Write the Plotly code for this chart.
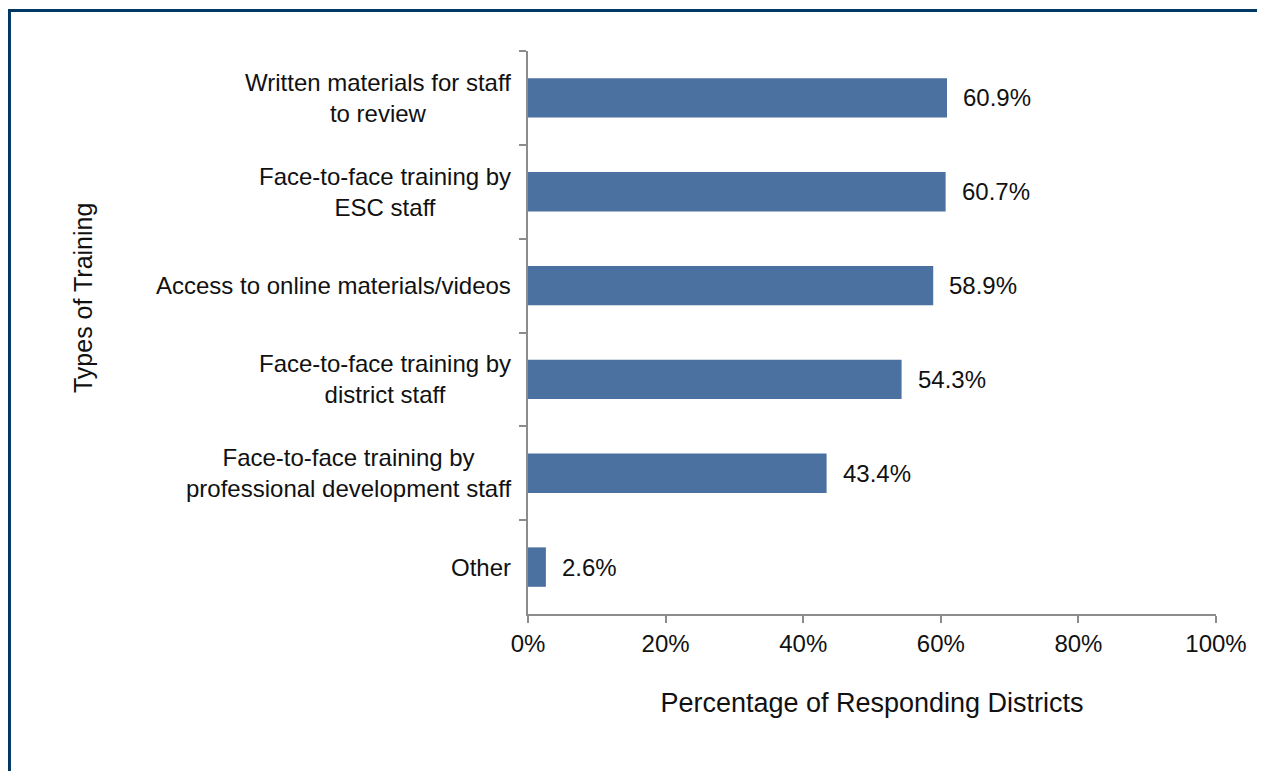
import plotly.graph_objects as go

categories = [
    "Written materials for staff<br>to review",
    "Face-to-face training by<br>ESC staff",
    "Access to online materials/videos",
    "Face-to-face training by<br>district staff",
    "Face-to-face training by<br>professional development staff",
    "Other",
]
values = [60.9, 60.7, 58.9, 54.3, 43.4, 2.6]
x_ticks = [0, 20, 40, 60, 80, 100]
x_tick_text = [f"{t}%" for t in x_ticks]

font = "Arial, Liberation Sans, sans-serif"
bar_color = "#4A71A0"
axis_color = "#8C8C8C"
text_color = "#111"

fig = go.Figure(go.Bar(
    x=values, y=categories, orientation="h",
    marker=dict(color=bar_color, line=dict(width=0)),
    width=0.42, hoverinfo="skip",
))

ann = []
# category labels: centred lines, block right-aligned next to the axis
for c in categories:
    ann.append(dict(x=0, y=c, xref="x", yref="y", text=c, showarrow=False,
                    xanchor="right", align="center", xshift=-15,
                    font=dict(family=font, size=24, color=text_color)))
# value labels
for c, v in zip(categories, values):
    ann.append(dict(x=v, y=c, xref="x", yref="y", text=f"{v:.1f}%", showarrow=False,
                    xanchor="left", xshift=14,
                    font=dict(family=font, size=24, color=text_color)))
# y axis title
ann.append(dict(x=-0.647, y=0.561, xref="paper", yref="paper", text="Types of Training",
                textangle=-90, showarrow=False, xanchor="center", yanchor="middle",
                font=dict(family=font, size=25, color=text_color)))

fig.update_layout(
    width=1257, height=763,
    margin=dict(l=520, r=49, t=43, b=157),
    paper_bgcolor="white", plot_bgcolor="white",
    showlegend=False,
    annotations=ann,
    xaxis=dict(
        range=[0, 100], tickmode="array", tickvals=x_ticks, ticktext=x_tick_text,
        showgrid=False, zeroline=False,
        showline=True, linecolor=axis_color, linewidth=1.5,
        ticks="outside", ticklen=7, tickcolor=axis_color, tickwidth=1.5,
        tickfont=dict(family=font, size=24, color=text_color),
        title=dict(text="Percentage of Responding Districts", standoff=38,
                   font=dict(family=font, size=27, color=text_color)),
    ),
    yaxis=dict(
        autorange="reversed", showticklabels=False, showgrid=False, zeroline=False,
        showline=True, linecolor=axis_color, linewidth=1.5,
        ticks="outside", tickson="boundaries", ticklen=7,
        tickcolor=axis_color, tickwidth=1.5,
    ),
    shapes=[dict(type="rect", xref="paper", yref="paper",
                 x0=-0.7537, x1=1.3, y0=-0.5, y1=1.0719,
                 line=dict(color="#003865", width=3), fillcolor="rgba(0,0,0,0)")],
)

fig.write_html("out.html")
